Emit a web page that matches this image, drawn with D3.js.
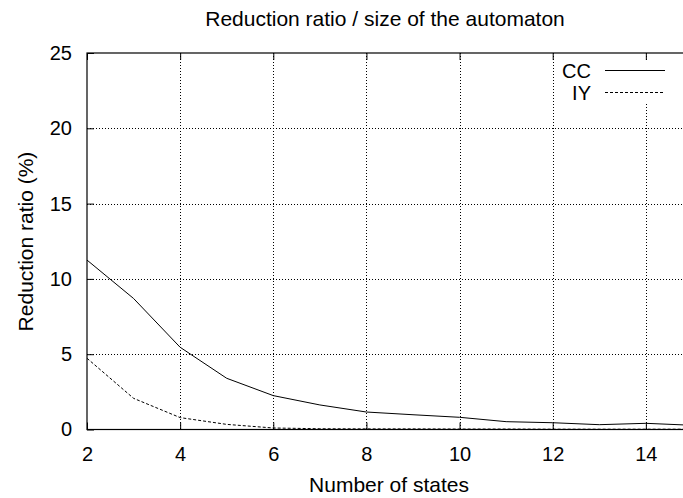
<!DOCTYPE html>
<html>
<head>
<meta charset="utf-8">
<script src="https://cdn.jsdelivr.net/npm/d3@7"></script>
<style>
  body { margin: 0; background: #fff; }
  svg { display: block; font-family: "Liberation Sans", Arial, sans-serif; }
</style>
</head>
<body>
<div id="chart"></div>
<script>
var states = [2, 3, 4, 5, 6, 7, 8, 9, 10, 11, 12, 13, 14, 15];
var ccValues = [11.25, 8.7, 5.46, 3.4, 2.25, 1.63, 1.16, 0.98, 0.81, 0.52, 0.45, 0.32, 0.41, 0.28];
var iyValues = [4.73, 2.07, 0.79, 0.34, 0.1, 0.05, 0.04, 0.04, 0.03, 0.03, 0.02, 0.02, 0.02, 0.02];
var xTicks = [2, 4, 6, 8, 10, 12, 14];
var yTicks = [0, 5, 10, 15, 20, 25];

var width = 683, height = 498;
// plot frame; the right side sits past the visible canvas (x = 16)
var plotL = 87, plotR = 739, plotT = 53, plotB = 429.5;

var svg = d3.select("#chart").append("svg")
  .attr("width", width)
  .attr("height", height);

var x = d3.scaleLinear().domain([2, 16]).range([plotL, plotR]);
var y = d3.scaleLinear().domain([0, 25]).range([plotB, plotT]);

// grid
svg.append("g").selectAll("line")
  .data(xTicks.slice(1))
  .enter().append("line")
  .attr("x1", function (d) { return Math.round(x(d)) + 0.5; })
  .attr("x2", function (d) { return Math.round(x(d)) + 0.5; })
  .attr("y1", plotT)
  .attr("y2", plotB)
  .attr("stroke", "#000")
  .attr("stroke-width", 1)
  .attr("stroke-dasharray", "1,2");

svg.append("g").selectAll("line")
  .data(yTicks.slice(1, -1))
  .enter().append("line")
  .attr("x1", plotL)
  .attr("x2", plotR)
  .attr("y1", function (d) { return Math.round(y(d)) + 0.5; })
  .attr("y2", function (d) { return Math.round(y(d)) + 0.5; })
  .attr("stroke", "#000")
  .attr("stroke-width", 1)
  .attr("stroke-dasharray", "1,2");

// key background
svg.append("rect")
  .attr("x", 557).attr("y", 60)
  .attr("width", 130).attr("height", 44)
  .attr("fill", "#fff");

// axes with inward ticks
svg.append("g")
  .attr("transform", "translate(0," + plotB + ")")
  .call(d3.axisBottom(x).tickValues(xTicks).tickSizeInner(-7).tickSizeOuter(0).tickPadding(17));
svg.append("g")
  .attr("transform", "translate(0," + plotT + ")")
  .call(d3.axisTop(x).tickValues(xTicks).tickSizeInner(-7).tickSizeOuter(0).tickFormat(""));
svg.append("g")
  .attr("transform", "translate(" + plotL + ",0)")
  .call(d3.axisLeft(y).tickValues(yTicks).tickSizeInner(-7).tickSizeOuter(0).tickPadding(15));

svg.selectAll(".domain").remove();
svg.selectAll(".tick text")
  .attr("font-size", "20px")
  .attr("font-family", "Liberation Sans, Arial, sans-serif")
  .attr("fill", "#000");
svg.selectAll(".tick line").attr("stroke", "#000");

// border
svg.append("rect")
  .attr("x", plotL).attr("y", plotT)
  .attr("width", plotR - plotL).attr("height", plotB - plotT)
  .attr("fill", "none")
  .attr("stroke", "#000")
  .attr("stroke-width", 1.2);

// lines
var line = d3.line()
  .x(function (d) { return x(d[0]); })
  .y(function (d) { return y(d[1]); });

svg.append("path")
  .datum(d3.zip(states, ccValues))
  .attr("d", line)
  .attr("fill", "none")
  .attr("stroke", "#000")
  .attr("stroke-width", 1);

svg.append("path")
  .datum(d3.zip(states, iyValues))
  .attr("d", line)
  .attr("fill", "none")
  .attr("stroke", "#000")
  .attr("stroke-width", 1)
  .attr("stroke-dasharray", "3,2");

// key
svg.append("text")
  .attr("x", 591).attr("y", 77.5)
  .attr("text-anchor", "end")
  .attr("font-size", "20px")
  .text("CC");
svg.append("line")
  .attr("x1", 605).attr("x2", 665)
  .attr("y1", 70.5).attr("y2", 70.5)
  .attr("stroke", "#000");
svg.append("text")
  .attr("x", 591).attr("y", 99.5)
  .attr("text-anchor", "end")
  .attr("font-size", "20px")
  .text("IY");
svg.append("line")
  .attr("x1", 605).attr("x2", 665)
  .attr("y1", 92.5).attr("y2", 92.5)
  .attr("stroke", "#000")
  .attr("stroke-dasharray", "3,2");

// titles
svg.append("text")
  .attr("x", 385).attr("y", 26)
  .attr("text-anchor", "middle")
  .attr("font-size", "21px")
  .text("Reduction ratio / size of the automaton");

svg.append("text")
  .attr("x", 389).attr("y", 492)
  .attr("text-anchor", "middle")
  .attr("font-size", "21px")
  .text("Number of states");

svg.append("text")
  .attr("transform", "translate(33,241.5) rotate(-90)")
  .attr("text-anchor", "middle")
  .attr("font-size", "21px")
  .text("Reduction ratio (%)");
</script>
</body>
</html>
